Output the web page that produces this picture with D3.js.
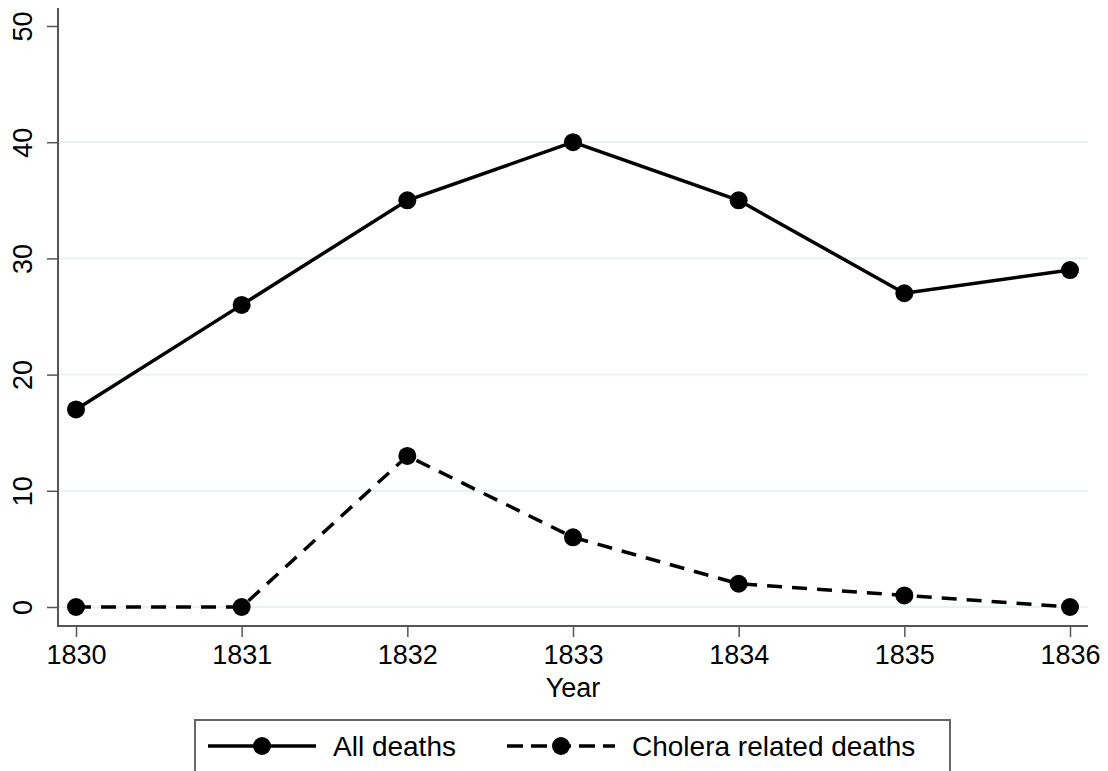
<!DOCTYPE html>
<html><head><meta charset="utf-8">
<script src="https://cdn.jsdelivr.net/npm/d3@7"></script>
<style>body{margin:0;background:#fff;} svg{display:block;font-family:"Liberation Sans",Arial,Helvetica,sans-serif;}</style>
</head><body>
<svg id="c" width="1108" height="771"></svg>
<script>
const years = [1830, 1831, 1832, 1833, 1834, 1835, 1836];
const allDeaths = [17, 26, 35, 40, 35, 27, 29];
const choleraDeaths = [0, 0, 13, 6, 2, 1, 0];
const yTicks = [0, 10, 20, 30, 40, 50];
const gridTicks = [0, 10, 20, 30, 40];
const seriesNames = ["All deaths", "Cholera related deaths"];

const svg = d3.select("#c");
const x = d3.scaleLinear().domain([1830, 1836]).range([76, 1070]);
const y = d3.scaleLinear().domain([0, 50]).range([607, 26]);
const axisX0 = 58, axisY0 = 626;

// gridlines
svg.append("g").selectAll("line").data(gridTicks).join("line")
  .attr("x1", axisX0).attr("x2", 1088)
  .attr("y1", d => y(d)).attr("y2", d => y(d))
  .attr("stroke", "#e9f1f2").attr("stroke-width", 2);

// y axis
const yAxis = svg.append("g").attr("transform", `translate(${axisX0},0)`)
  .call(d3.axisLeft(y).tickValues(yTicks).tickSize(11).tickPadding(12).tickFormat(d3.format("d")));
yAxis.select(".domain").remove();
yAxis.append("line").attr("x1", 0).attr("x2", 0).attr("y1", 8).attr("y2", axisY0).attr("stroke", "#555").attr("stroke-width", 2);
yAxis.selectAll(".tick line").attr("stroke", "#555").attr("stroke-width", 1.5);
yAxis.selectAll(".tick text")
  .attr("font-size", 27).attr("fill", "#000")
  .attr("text-anchor", "middle")
  .attr("x", 0).attr("dy", 0)
  .attr("transform", "translate(-35,0) rotate(-90)")
  .attr("y", 0)
  .attr("dominant-baseline", "central");

// x axis
const xAxis = svg.append("g").attr("transform", `translate(0,${axisY0})`)
  .call(d3.axisBottom(x).tickValues(years).tickSize(11).tickPadding(8).tickFormat(d3.format("d")));
xAxis.select(".domain").remove();
xAxis.append("line").attr("x1", axisX0 - 1).attr("x2", 1088).attr("y1", 0).attr("y2", 0).attr("stroke", "#555").attr("stroke-width", 2);
xAxis.selectAll(".tick line").attr("stroke", "#555").attr("stroke-width", 1.5);
xAxis.selectAll(".tick text").attr("font-size", 27).attr("fill", "#000");

svg.append("text").attr("x", 573).attr("y", 697).attr("text-anchor", "middle")
  .attr("font-size", 27).attr("fill", "#000").text("Year");

const line = d3.line().x((d, i) => x(years[i])).y(d => y(d));

function drawSeries(vals, dash) {
  svg.append("path").datum(vals).attr("d", line)
    .attr("fill", "none").attr("stroke", "#000").attr("stroke-width", 3.5)
    .attr("stroke-dasharray", dash);
  svg.append("g").selectAll("circle").data(vals).join("circle")
    .attr("cx", (d, i) => x(years[i])).attr("cy", d => y(d)).attr("r", 9).attr("fill", "#000");
}
drawSeries(allDeaths, null);
drawSeries(choleraDeaths, "15 10");

// legend
const lg = svg.append("g");
lg.append("rect").attr("x", 195).attr("y", 720).attr("width", 755).attr("height", 70)
  .attr("fill", "#fff").attr("stroke", "#666").attr("stroke-width", 2);
const legItems = [
  {name: seriesNames[0], x1: 208, x2: 316, mx: 262, tx: 333, dash: null},
  {name: seriesNames[1], x1: 507, x2: 615, mx: 561, tx: 632, dash: "16 8"}
];
legItems.forEach(it => {
  lg.append("line").attr("x1", it.x1).attr("x2", it.x2).attr("y1", 746).attr("y2", 746)
    .attr("stroke", "#000").attr("stroke-width", 3.5).attr("stroke-dasharray", it.dash);
  lg.append("circle").attr("cx", it.mx).attr("cy", 746).attr("r", 9).attr("fill", "#000");
  lg.append("text").attr("x", it.tx).attr("y", 756).attr("font-size", 28).attr("fill", "#000").text(it.name);
});
</script>
</body></html>
